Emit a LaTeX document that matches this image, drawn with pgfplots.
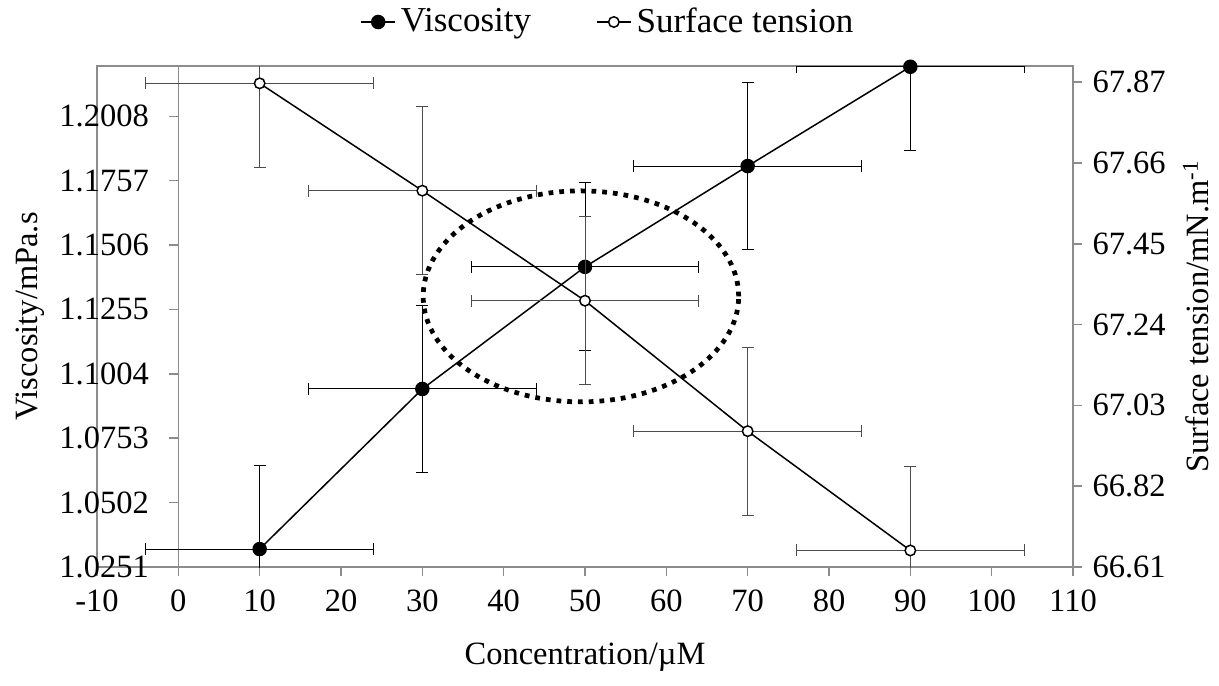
\documentclass[border=0pt,12pt]{standalone}
\usepackage{fontspec}
\setmainfont{Liberation Serif}
\usepackage{pgfplots}
\pgfplotsset{compat=1.18}

\begin{document}
\begin{tikzpicture}[font=\fontsize{13}{15.6}\selectfont]
\pgfplotsset{
  every axis/.append style={
    scale only axis, width=390.4pt, height=200.4pt,
    xmin=-10, xmax=110,
    tick align=outside, major tick length=3.6pt,
    axis line style={black!45, line width=0.6pt, -},
    every tick/.style={black!45, line width=0.6pt},
    error bars/error bar style={line width=0.4pt},
    error bars/error mark options={rotate=90, mark size=2.4pt, line width=0.4pt},
  },
}
% left axis: viscosity
\begin{axis}[
  name=main,
  ymin=1.0251, ymax=1.2204,
  xtick={-10,0,10,20,30,40,50,60,70,80,90,100,110},
  xticklabels={-10,0,10,20,30,40,50,60,70,80,90,100,110},
  ytick={1.0251,1.0502,1.0753,1.1004,1.1255,1.1506,1.1757,1.2008},
  yticklabels={1.0251,1.0502,1.0753,1.1004,1.1255,1.1506,1.1757,1.2008},
  xtick pos=lower, ytick pos=left,
  ytick style={xshift=32.53pt},
  yticklabel style={xshift=28.5pt},
  xticklabel style={yshift=-1.5pt},
  xlabel={Concentration/µM},
  ylabel={Viscosity/mPa.s},
  xlabel style={at={(axis description cs:0.5,0)}, anchor=base, yshift=-38.8pt},
  ylabel style={at={(axis description cs:-0.0686,0.5)}, anchor=center},
]
\draw[black!45, line width=0.6pt] (axis cs:0,1.0251) -- (axis cs:0,1.2204);
\addplot[black, line width=0.6pt, mark=*, mark size=2.6pt,
  error bars/.cd, x dir=both, x explicit, y dir=both, y explicit] coordinates {
  (10,1.0321) +- (14,0.0327)
  (30,1.0945) +- (14,0.0327)
  (50,1.1421) +- (14,0.0327)
  (70,1.1814) +- (14,0.0327)
  (90,1.2201) +- (14,0.0327)
};
% dotted ellipse round the crossing
\draw[black, line width=1.9pt, dash pattern=on 1.9pt off 2.4pt]
  (axis cs:49.5,1.1306) ellipse [x radius=63.1pt, y radius=42.2pt];
\end{axis}

% right axis: surface tension
\begin{axis}[
  ymin=66.61, ymax=67.912,
  axis y line*=right, axis x line=none,
  ytick={66.61,66.82,67.03,67.24,67.45,67.66,67.87},
  yticklabels={66.61,66.82,67.03,67.24,67.45,67.66,67.87},
  ylabel={Surface tension/mN.m\textsuperscript{-1}},
  ylabel style={at={(axis description cs:1.126,0.5)}, anchor=center},
  legend style={at={(axis description cs:0.525,1)}, anchor=center, yshift=17.6pt,
    draw=none, fill=none, legend columns=2,
    font=\fontsize{14}{16.8}\selectfont,
    /tikz/every even column/.append style={column sep=24pt}},
  legend image code/.code={\draw[mark repeat=2, mark phase=2, #1]
    plot coordinates {(0pt,0pt) (6.8pt,0pt) (13.6pt,0pt)};},
]
\addlegendimage{black, line width=0.6pt, mark=*, mark size=2.6pt}
\addlegendentry{Viscosity}
\addplot[black, line width=0.6pt, mark=*, mark size=2.1pt, mark options={fill=white},
  error bars/.cd, x dir=both, x explicit, y dir=both, y explicit,
  error bar style={black!70}] coordinates {
  (10,67.867) +- (14,0.218)
  (30,67.588) +- (14,0.218)
  (50,67.302) +- (14,0.218)
  (70,66.963) +- (14,0.218)
  (90,66.653) +- (14,0.218)
};
\addlegendentry{Surface tension}
\end{axis}
\pgfresetboundingbox
\path[use as bounding box] ([xshift=-38.8pt,yshift=-47.2pt]main.south west)
  rectangle ([xshift=58.4pt,yshift=26.4pt]main.north east);
\end{tikzpicture}
\end{document}
